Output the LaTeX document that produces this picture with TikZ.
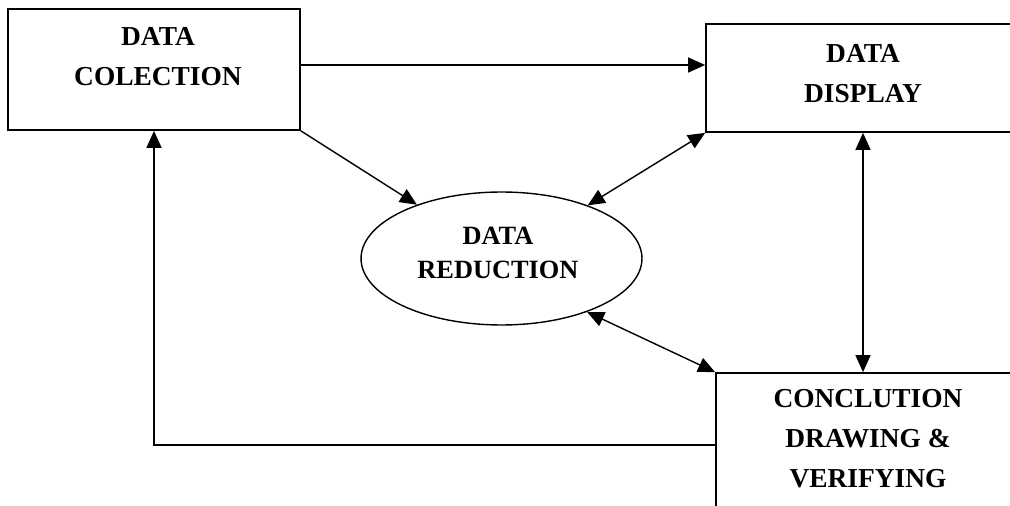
\documentclass[tikz,border=0pt]{standalone}
\usepackage{fontspec}
\setmainfont{Liberation Serif}
\usetikzlibrary{positioning,arrows.meta,shapes.geometric}

\begin{document}
\begin{tikzpicture}[x=0.02cm,y=-0.02cm,
    stage/.style={draw,line width=1pt,rectangle,inner sep=0pt},
    stagetext/.style={font=\fontsize{15.6}{22.8}\selectfont\bfseries,align=center,inner sep=0pt},
    arr/.style={line width=0.8pt,-{Triangle[length=0.34cm,width=0.3cm]}},
    darr/.style={line width=0.8pt,{Triangle[length=0.34cm,width=0.3cm]}-{Triangle[length=0.34cm,width=0.3cm]}}]
    \useasboundingbox (0,0) rectangle (1010,506);
    \clip (0,0) rectangle (1010,506);

    % the four stages
    \node[stage,minimum width=5.84cm,minimum height=2.42cm] (collection) at (154,69.5) {};
    \node[stage,minimum width=6.28cm,minimum height=2.16cm] (display) at (863,78) {};
    \node[stage,minimum width=6.08cm,minimum height=4.54cm] (conclusion) at (868,486.5) {};
    \node[draw,line width=0.8pt,ellipse,inner sep=0pt,minimum width=5.62cm,minimum height=2.66cm] (reduction) at (501.5,258.5) {};

    % their texts
    \node[stagetext] (collectiontext) at (158,57) {DATA\\COLECTION};
    \node[stagetext] (displaytext) at (863,74) {DATA\\DISPLAY};
    \node[stagetext] (conclusiontext) at (868,439) {CONCLUTION\\DRAWING \&\\VERIFYING};
    \node[stagetext,font=\fontsize{15}{19.4}\selectfont\bfseries] (reductiontext) at (498,253) {DATA\\REDUCTION};

    % flows
    \draw[arr] ([yshift=0.09cm]collection.east) -- ([yshift=0.09cm]collection.east -| display.west);
    \draw[arr] (collection.south east) -- (reduction);
    \draw[darr] (display.south west) -- (reduction);
    \draw[darr] (conclusion.north west) -- (reduction.-32);
    \draw[darr] (display.south) -- (display.south |- conclusion.north);
    \draw[arr] ([yshift=-1.46cm]conclusion.north west) -| (collection.south);
\end{tikzpicture}
\end{document}
